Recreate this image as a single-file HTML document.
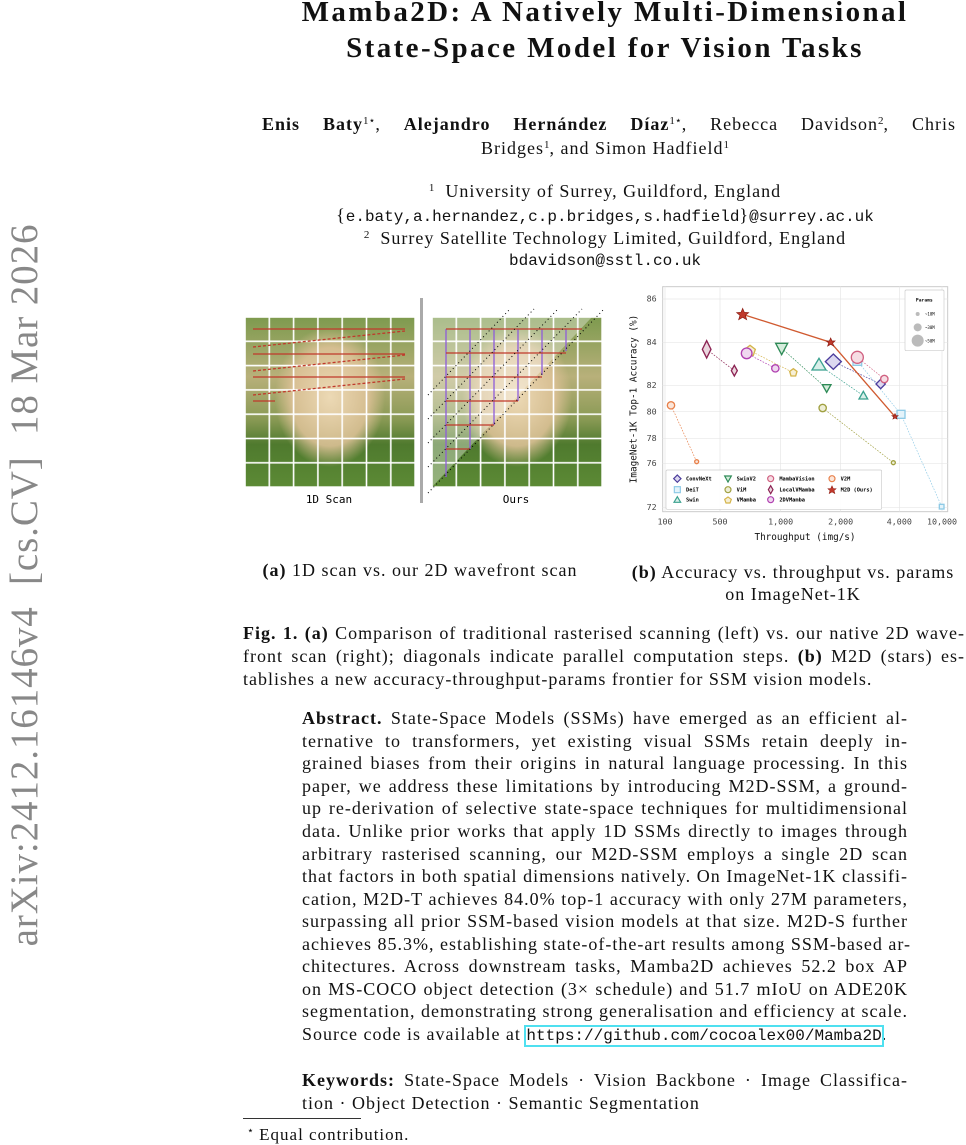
<!DOCTYPE html>
<html><head><meta charset="utf-8"><style>
body{margin:0;width:966px;height:1144px;background:#fff;position:relative;overflow:hidden;font-family:"Liberation Serif",serif;color:#111}
.l{position:absolute;white-space:nowrap;font-size:18px;line-height:20px;letter-spacing:1px}
.j{position:absolute;font-size:18px;line-height:20px;letter-spacing:1px;text-align:justify;text-align-last:justify;white-space:nowrap;overflow:visible}
.c{position:absolute;text-align:center;white-space:nowrap;letter-spacing:1px}
.m{font-family:"Liberation Mono",monospace;letter-spacing:0}
.t{font-family:"Liberation Serif",serif;font-weight:bold;font-size:29px;line-height:36px;letter-spacing:2.4px}
sup{font-size:11px;vertical-align:6px;line-height:0;letter-spacing:0}
</style></head><body>
<div style="position:absolute;left:-345px;top:563px;width:740px;text-align:center;transform:rotate(-90deg);font-size:39px;letter-spacing:0.9px;color:#888;white-space:nowrap;line-height:44px">arXiv:2412.16146v4 &nbsp;[cs.CV] &nbsp;18 Mar 2026</div>

<div class="c t" style="left:240px;width:730px;top:-6px">Mamba2D: A Natively Multi-Dimensional</div>
<div class="c t" style="left:240px;width:730px;top:30px">State-Space Model for Vision Tasks</div>

<div class="j" style="left:262px;width:694px;top:114px;font-size:18px"><b>Enis Baty</b><sup>1⋆</sup>, <b>Alejandro Hernández Díaz</b><sup>1⋆</sup>, Rebecca Davidson<sup>2</sup>, Chris</div>
<div class="c" style="left:240px;width:730px;top:138px;font-size:18px">Bridges<sup>1</sup>, and Simon Hadfield<sup>1</sup></div>
<div class="c" style="left:240px;width:730px;top:181px;font-size:18px"><sup>1</sup>&nbsp; University of Surrey, Guildford, England</div>
<div class="c" style="left:240px;width:730px;top:205px;font-size:18px">{<span class="m" style="font-size:16px">e.baty,a.hernandez,c.p.bridges,s.hadfield</span>}<span class="m" style="font-size:16px">@surrey.ac.uk</span></div>
<div class="c" style="left:240px;width:730px;top:228px;font-size:18px"><sup>2</sup>&nbsp; Surrey Satellite Technology Limited, Guildford, England</div>
<div class="c m" style="left:240px;width:730px;top:252px;font-size:16px">bdavidson@sstl.co.uk</div>

<!-- fig a -->
<svg style="position:absolute;left:240px;top:290px" width="380" height="220" viewBox="0 0 380 220">
<defs>
<linearGradient id="ph" x1="0" y1="0" x2="0" y2="1">
<stop offset="0" stop-color="#7d9a4e"/><stop offset="0.35" stop-color="#b8b07a"/><stop offset="0.6" stop-color="#8a9a55"/><stop offset="0.75" stop-color="#4f7a2e"/><stop offset="1" stop-color="#5c8a35"/></linearGradient>
<radialGradient id="dog" cx="0.5" cy="0.5" r="0.5"><stop offset="0" stop-color="#ecd9b5"/><stop offset="0.7" stop-color="#dcc196" stop-opacity="0.9"/><stop offset="1" stop-color="#dcc196" stop-opacity="0"/></radialGradient>
<pattern id="g" width="24.3" height="24.3" patternUnits="userSpaceOnUse"><rect width="24.3" height="24.3" fill="none" stroke="#fff" stroke-width="1.6"/></pattern>
</defs>
<g transform="translate(5,27)">
<rect width="170" height="170" fill="url(#ph)"/>
<ellipse cx="85" cy="80" rx="55" ry="70" fill="url(#dog)"/>
<rect width="170" height="170" fill="url(#g)"/>
<g stroke="#c0392b" stroke-width="1.3" fill="#c0392b">
<line x1="8" y1="12" x2="160" y2="12"/><line x1="8" y1="37" x2="160" y2="37"/><line x1="8" y1="60" x2="160" y2="60"/><line x1="8" y1="84" x2="30" y2="84"/>
<line x1="8" y1="30" x2="160" y2="14" stroke-dasharray="3,2"/><line x1="8" y1="54" x2="160" y2="38" stroke-dasharray="3,2"/><line x1="8" y1="78" x2="160" y2="62" stroke-dasharray="3,2"/>
</g></g>
<rect x="180" y="8" width="3" height="205" fill="#aaa"/>
<g transform="translate(192,27)">
<rect width="170" height="170" fill="url(#ph)"/>
<ellipse cx="85" cy="80" rx="55" ry="70" fill="url(#dog)"/>
<polygon points="0,0 160,0 0,170" fill="#fff" opacity="0.35"/>
<rect width="170" height="170" fill="url(#g)"/>
<g stroke="#8e5cd9" stroke-width="1.3"><line x1="14" y1="12" x2="14" y2="160"/><line x1="38" y1="12" x2="38" y2="132"/><line x1="62" y1="12" x2="62" y2="108"/><line x1="86" y1="12" x2="86" y2="84"/><line x1="110" y1="12" x2="110" y2="58"/><line x1="134" y1="12" x2="134" y2="34"/></g>
<g stroke="#c0392b" stroke-width="1.3"><line x1="14" y1="12" x2="150" y2="12"/><line x1="14" y1="36" x2="134" y2="36"/><line x1="14" y1="60" x2="110" y2="60"/><line x1="14" y1="84" x2="86" y2="84"/><line x1="14" y1="108" x2="62" y2="108"/><line x1="14" y1="132" x2="38" y2="132"/></g>
<g stroke="#000" stroke-width="1" stroke-dasharray="1,3"><line x1="-4" y1="176" x2="172" y2="-8"/><line x1="-4" y1="150" x2="150" y2="-8"/><line x1="-4" y1="126" x2="126" y2="-8"/><line x1="-4" y1="102" x2="102" y2="-8"/><line x1="-4" y1="78" x2="78" y2="-8"/></g>
</g>
<text x="89" y="213" font-family="DejaVu Sans Mono,monospace" font-size="11" text-anchor="middle">1D Scan</text>
<text x="276" y="213" font-family="DejaVu Sans Mono,monospace" font-size="11" text-anchor="middle">Ours</text>
</svg>

<!-- fig b -->
<svg style="position:absolute;left:620px;top:280px" width="346" height="270" viewBox="0 0 1038 810" font-family="DejaVu Sans Mono,monospace">
<rect x="128" y="20" width="855" height="675" fill="#fff" stroke="#ccc" stroke-width="3"/>
<g stroke="#e6e6e6" stroke-width="2">
<line x1="135" y1="20" x2="135" y2="695"/><line x1="300" y1="20" x2="300" y2="695"/><line x1="482" y1="20" x2="482" y2="695"/><line x1="662" y1="20" x2="662" y2="695"/><line x1="838" y1="20" x2="838" y2="695"/><line x1="966" y1="20" x2="966" y2="695"/>
<line x1="128" y1="57" x2="983" y2="57"/><line x1="128" y1="187" x2="983" y2="187"/><line x1="128" y1="316" x2="983" y2="316"/><line x1="128" y1="395" x2="983" y2="395"/><line x1="128" y1="475" x2="983" y2="475"/><line x1="128" y1="550" x2="983" y2="550"/><line x1="128" y1="682" x2="983" y2="682"/></g>
<g font-size="25" fill="#444" text-anchor="end"><text x="110" y="65">86</text><text x="110" y="195">84</text><text x="110" y="324">82</text><text x="110" y="403">80</text><text x="110" y="483">78</text><text x="110" y="558">76</text><text x="110" y="690">72</text></g>
<g font-size="25" fill="#444" text-anchor="middle"><text x="135" y="733">100</text><text x="300" y="733">500</text><text x="482" y="733">1,000</text><text x="662" y="733">2,000</text><text x="838" y="733">4,000</text><text x="966" y="733">10,000</text></g>
<text x="555" y="780" font-size="28" text-anchor="middle" fill="#111">Throughput (img/s)</text>
<text transform="translate(50,357) rotate(-90)" font-size="28" text-anchor="middle" fill="#111">ImageNet-1K Top-1 Accuracy (%)</text>
<g fill="none" stroke-width="2" stroke-dasharray="5,4">
<line x1="640" y1="245" x2="782" y2="312" stroke="#4b3c9c"/>
<polyline points="712,243 843,403 965,680" stroke="#8ecae6"/>
<line x1="597" y1="255" x2="730" y2="347" stroke="#3aa18f"/>
<line x1="485" y1="205" x2="620" y2="325" stroke="#2e8b57"/>
<line x1="608" y1="384" x2="820" y2="548" stroke="#a0a040"/>
<line x1="390" y1="212" x2="520" y2="278" stroke="#d4b44a"/>
<line x1="712" y1="232" x2="793" y2="297" stroke="#d06080"/>
<line x1="260" y1="208" x2="343" y2="272" stroke="#8b2252"/>
<line x1="380" y1="220" x2="466" y2="265" stroke="#b040b0"/>
<line x1="153" y1="376" x2="230" y2="545" stroke="#e8804a"/>
</g>
<g stroke-width="4">
<polygon points="640,222 664,245 640,268 616,245" fill="#dcd8f0" stroke="#4b3c9c"/>
<polygon points="782,298 796,312 782,326 768,312" fill="#dcd8f0" stroke="#4b3c9c"/>
<rect x="699" y="230" width="26" height="26" fill="#e4f3fa" stroke="#8ecae6"/>
<rect x="831" y="391" width="24" height="24" fill="#e4f3fa" stroke="#8ecae6"/>
<rect x="958" y="673" width="14" height="14" fill="#e4f3fa" stroke="#8ecae6"/>
<polygon points="597,235 618,270 576,270" fill="#d8efe9" stroke="#3aa18f"/>
<polygon points="730,334 743,357 717,357" fill="#d8efe9" stroke="#3aa18f"/>
<polygon points="467,190 503,190 485,224" fill="#d5ecdc" stroke="#2e8b57"/>
<polygon points="607,314 633,314 620,337" fill="#d5ecdc" stroke="#2e8b57"/>
<circle cx="608" cy="384" r="11" fill="#eeeed6" stroke="#a0a040"/>
<circle cx="820" cy="548" r="6" fill="#eeeed6" stroke="#a0a040"/>
<polygon points="390,196 406,208 400,226 380,226 374,208" fill="#f6efd6" stroke="#d4b44a"/>
<polygon points="520,266 531,274 527,288 513,288 509,274" fill="#f6efd6" stroke="#d4b44a"/>
<circle cx="712" cy="232" r="18" fill="#f6dde4" stroke="#d06080"/>
<circle cx="793" cy="297" r="11" fill="#f6dde4" stroke="#d06080"/>
<polygon points="260,182 273,208 260,234 247,208" fill="#ead6de" stroke="#8b2252"/>
<polygon points="343,256 352,272 343,288 334,272" fill="#ead6de" stroke="#8b2252"/>
<circle cx="380" cy="220" r="16" fill="#efd8ef" stroke="#b040b0"/>
<circle cx="466" cy="265" r="11" fill="#efd8ef" stroke="#b040b0"/>
<circle cx="153" cy="376" r="11" fill="#fbe6da" stroke="#e8804a"/>
<circle cx="230" cy="545" r="6" fill="#fbe6da" stroke="#e8804a"/>
</g>
<polyline points="368,103 632,187 825,410" fill="none" stroke="#d05a30" stroke-width="4"/>
<g fill="#c0392b" stroke="#8b1a10" stroke-width="2">
<polygon points="368,85 373,97 386,98 376,106 380,119 368,112 356,119 360,106 350,98 363,97"/>
<polygon points="632,174 636,183 645,183 638,189 641,198 632,193 623,198 626,189 619,183 628,183"/>
<polygon points="825,401 828,407 834,407 829,411 831,417 825,414 819,417 821,411 816,407 822,407"/>
</g>
<rect x="855" y="30" width="117" height="182" rx="4" fill="#fff" stroke="#ccc" stroke-width="2"/>
<text x="913" y="64" font-size="14" text-anchor="middle" font-weight="bold">Params</text>
<circle cx="893" cy="102" r="6" fill="#bbb"/><text x="915" y="107" font-size="12">~10M</text>
<circle cx="893" cy="142" r="12" fill="#bbb"/><text x="915" y="147" font-size="12">~30M</text>
<circle cx="893" cy="182" r="18" fill="#bbb"/><text x="915" y="187" font-size="12">~50M</text>
<rect x="138" y="570" width="647" height="118" rx="4" fill="#fff" fill-opacity="0.9" stroke="#ccc" stroke-width="2"/>
<g stroke-width="3.5" font-size="16" font-weight="bold">
<polygon points="172,585 183,596 172,607 161,596" fill="#dcd8f0" stroke="#4b3c9c"/><text x="198" y="602">ConvNeXt</text>
<rect x="163" y="620" width="18" height="18" fill="#e4f3fa" stroke="#8ecae6"/><text x="198" y="635">DeiT</text>
<polygon points="172,650 182,667 162,667" fill="#d8efe9" stroke="#3aa18f"/><text x="198" y="665">Swin</text>
<polygon points="314,588 334,588 324,606" fill="#d5ecdc" stroke="#2e8b57"/><text x="350" y="602">SwinV2</text>
<circle cx="324" cy="629" r="9" fill="#eeeed6" stroke="#a0a040"/><text x="350" y="635">ViM</text>
<polygon points="324,651 334,658 330,669 318,669 314,658" fill="#f6efd6" stroke="#d4b44a"/><text x="350" y="665">VMamba</text>
<circle cx="452" cy="596" r="9" fill="#f6dde4" stroke="#d06080"/><text x="478" y="602">MambaVision</text>
<polygon points="452,617 459,629 452,641 445,629" fill="#ead6de" stroke="#8b2252"/><text x="478" y="635">LocalVMamba</text>
<circle cx="452" cy="659" r="9" fill="#efd8ef" stroke="#b040b0"/><text x="478" y="665">2DVMamba</text>
<circle cx="636" cy="596" r="9" fill="#fbe6da" stroke="#e8804a"/><text x="662" y="602">V2M</text>
<polygon points="636,617 640,626 649,626 642,632 645,641 636,636 627,641 630,632 623,626 632,626" fill="#c0392b" stroke="#8b1a10" stroke-width="1.5"/><text x="662" y="635">M2D (Ours)</text>
</g>
</svg>

<div class="c" style="left:250px;width:340px;top:560px;font-size:18px"><b>(a)</b> 1D scan vs. our 2D wavefront scan</div>
<div class="c" style="left:610px;width:366px;top:561px;font-size:18px;line-height:22px"><b>(b)</b> Accuracy vs. throughput vs. params<br>on ImageNet-1K</div>

<div class="j" style="left:243px;width:722px;top:623px"><b>Fig. 1. (a)</b> Comparison of traditional rasterised scanning (left) vs. our native 2D wave-</div>
<div class="j" style="left:243px;width:722px;top:646px">front scan (right); diagonals indicate parallel computation steps. <b>(b)</b> M2D (stars) es-</div>
<div class="l" style="left:243px;top:669px">tablishes a new accuracy-throughput-params frontier for SSM vision models.</div>

<div class="j" style="left:302px;width:606px;top:708px"><b>Abstract.</b> State-Space Models (SSMs) have emerged as an efficient al-</div>
<div class="j" style="left:302px;width:606px;top:731px">ternative to transformers, yet existing visual SSMs retain deeply in-</div>
<div class="j" style="left:302px;width:606px;top:753px">grained biases from their origins in natural language processing. In this</div>
<div class="j" style="left:302px;width:606px;top:776px">paper, we address these limitations by introducing M2D-SSM, a ground-</div>
<div class="j" style="left:302px;width:606px;top:798px">up re-derivation of selective state-space techniques for multidimensional</div>
<div class="j" style="left:302px;width:606px;top:821px">data. Unlike prior works that apply 1D SSMs directly to images through</div>
<div class="j" style="left:302px;width:606px;top:844px">arbitrary rasterised scanning, our M2D-SSM employs a single 2D scan</div>
<div class="j" style="left:302px;width:606px;top:866px">that factors in both spatial dimensions natively. On ImageNet-1K classifi-</div>
<div class="j" style="left:302px;width:606px;top:889px">cation, M2D-T achieves 84.0% top-1 accuracy with only 27M parameters,</div>
<div class="j" style="left:302px;width:606px;top:911px">surpassing all prior SSM-based vision models at that size. M2D-S further</div>
<div class="j" style="left:302px;width:606px;top:934px">achieves 85.3%, establishing state-of-the-art results among SSM-based ar-</div>
<div class="j" style="left:302px;width:606px;top:956px">chitectures. Across downstream tasks, Mamba2D achieves 52.2 box AP</div>
<div class="j" style="left:302px;width:606px;top:979px">on MS-COCO object detection (3× schedule) and 51.7 mIoU on ADE20K</div>
<div class="j" style="left:302px;width:606px;top:1001px">segmentation, demonstrating strong generalisation and efficiency at scale.</div>
<div class="l" style="left:302px;top:1024px">Source code is available at <span class="m" style="font-size:16px;outline:2px solid #4fe0f0">https://github.com/cocoalex00/Mamba2D</span>.</div>

<div class="j" style="left:302px;width:606px;top:1070px"><b>Keywords:</b> State-Space Models · Vision Backbone · Image Classifica-</div>
<div class="l" style="left:302px;top:1093px">tion · Object Detection · Semantic Segmentation</div>

<div style="position:absolute;left:243px;top:1118px;width:118px;border-top:1px solid #333"></div>
<div class="l" style="left:247px;top:1125px;font-size:17px"><sup>⋆</sup> Equal contribution.</div>
</body></html>
